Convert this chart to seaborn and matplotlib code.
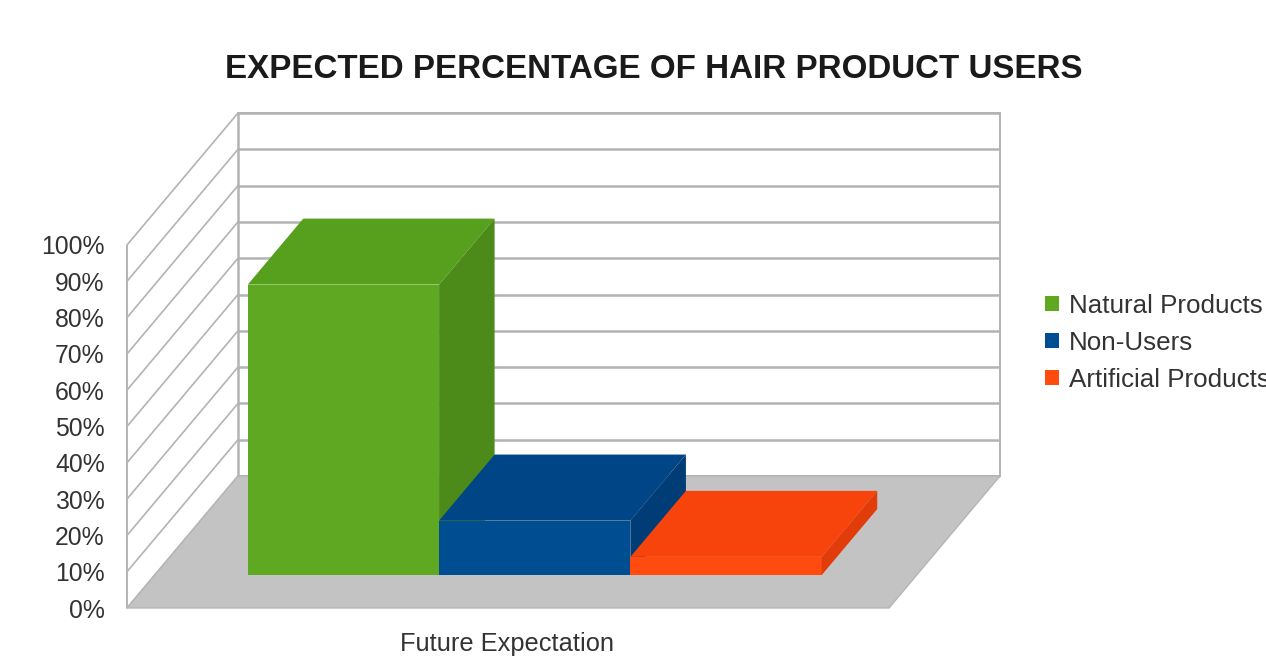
import matplotlib
matplotlib.use('Agg')
import matplotlib.pyplot as plt
import pandas as pd
import seaborn as sns

sns.set_theme(style = 'white')
plt.rcParams['font.family'] = ['Liberation Sans', 'DejaVu Sans']

# chart data
category = 'Future Expectation'
series = ['Natural Products', 'Non-Users', 'Artificial Products']
values = [80, 15, 5]
y_ticks = [0, 10, 20, 30, 40, 50, 60, 70, 80, 90, 100]
y_tick_labels = [f'{t}%' for t in y_ticks]
title = 'EXPECTED PERCENTAGE OF HAIR PRODUCT USERS'

front_colors = ['#5fa821', '#004e92', '#ff4b0e']
top_colors = ['#57a01d', '#004586', '#f7440d']
side_colors = ['#4c8b19', '#003d76', '#e23c0a']
grid_color = '#b3b3b3'
floor_color = '#c3c3c3'

W, H = 1266, 658

# layout of the fake 3d box, in pixels
left_px, right_px, bottom_px, top_px = 127, 1000, 608, 112
px_per_pct = 3.63
group_px = 574
center_px = 507
depth_px = (111, 132)

DX = depth_px[0] / group_px
DY = depth_px[1] / px_per_pct
bar_depth = (0.25, 0.75)


def draw_box(ax, xlim):

    x0 = xlim[0]
    xb0 = xlim[0] + DX
    xb1 = xlim[1]
    x1 = xlim[1] - DX

    # back wall
    ax.fill([xb0, xb1, xb1, xb0], [DY, DY, 100 + DY, 100 + DY],
            facecolor = 'white', edgecolor = grid_color, linewidth = 1.4, zorder = 1, clip_on = False)
    ax.hlines([t + DY for t in y_ticks], xb0, xb1, colors = grid_color, linewidth = 1.8, zorder = 2, clip_on = False)

    # left wall
    ax.fill([x0, xb0, xb0, x0], [0, DY, 100 + DY, 100],
            facecolor = 'white', edgecolor = 'none', zorder = 1, clip_on = False)
    for t in y_ticks:
        ax.plot([x0, xb0], [t, t + DY], color = grid_color, linewidth = 1.2, zorder = 2, clip_on = False)
    ax.vlines([x0], 0, 100, colors = grid_color, linewidth = 1.4, zorder = 2, clip_on = False)
    ax.vlines([xb0], DY, 100 + DY, colors = grid_color, linewidth = 1.8, zorder = 2, clip_on = False)

    # floor
    ax.fill([x0, x1, xb1, xb0], [0, 0, DY, DY],
            facecolor = floor_color, edgecolor = '#b5b5b5', linewidth = 1.0, zorder = 3, clip_on = False)


fig = plt.figure(figsize = (W / 100, H / 100), dpi = 100)
ax = fig.add_axes([left_px / W, 1 - bottom_px / H, (right_px - left_px) / W, (bottom_px - top_px) / H])

df = pd.DataFrame({'category': [category] * len(series), 'series': series, 'value': values})

sns.barplot(
    data = df, x = 'category', y = 'value', hue = 'series', hue_order = series,
    palette = dict(zip(series, front_colors)), saturation = 1, width = 1.0,
    errorbar = None, linewidth = 0, ax = ax
)

xlim = ((left_px - center_px) / group_px, (right_px - center_px) / group_px)
ylim = (0, (bottom_px - top_px) / px_per_pct)

draw_box(ax, xlim)

# push the front faces back and add tops and sides
bars = sorted(ax.patches[:len(series)], key = lambda p: p.get_x())
front_dx, front_dy = bar_depth[0] * DX, bar_depth[0] * DY
ddx = (bar_depth[1] - bar_depth[0]) * DX
ddy = (bar_depth[1] - bar_depth[0]) * DY

for i, p in enumerate(bars):

    p.set_x(p.get_x() + front_dx)
    p.set_y(p.get_y() + front_dy)
    p.set_zorder(10 + 3 * i)
    p.set_clip_on(False)

    x, w = p.get_x(), p.get_width()
    y0, h = p.get_y(), p.get_height()

    ax.fill([x, x + w, x + w + ddx, x + ddx], [y0 + h, y0 + h, y0 + h + ddy, y0 + h + ddy],
            color = top_colors[i], linewidth = 0, zorder = 11 + 3 * i, clip_on = False)
    ax.fill([x + w, x + w + ddx, x + w + ddx, x + w], [y0, y0 + ddy, y0 + h + ddy, y0 + h],
            color = side_colors[i], linewidth = 0, zorder = 11 + 3 * i, clip_on = False)

ax.set_xlim(*xlim)
ax.set_ylim(*ylim)
ax.set_yticks(y_ticks, y_tick_labels)
ax.set_xlabel('')
ax.set_ylabel('')
ax.set_facecolor('none')
sns.despine(ax = ax, left = True, bottom = True)
ax.tick_params(axis = 'y', length = 0, pad = 16, labelsize = 17.8, labelcolor = '#333333')
ax.tick_params(axis = 'x', length = 0, pad = 17, labelsize = 18.3, labelcolor = '#333333')

sns.move_legend(
    ax, 'center left', bbox_to_anchor = (1045 / W, 1 - 343 / H), bbox_transform = fig.transFigure,
    frameon = False, title = None, fontsize = 18.7, labelcolor = '#333333',
    handlelength = 0.52, handleheight = 0.52, handletextpad = 0.4, labelspacing = 0.5,
    borderpad = 0, borderaxespad = 0
)

fig.text(0.516, 1 - 69 / H, title, ha = 'center', va = 'center',
         fontsize = 23.9, fontweight = 'bold', color = '#1a1a1a')

fig.savefig('out.png', dpi = 100)
